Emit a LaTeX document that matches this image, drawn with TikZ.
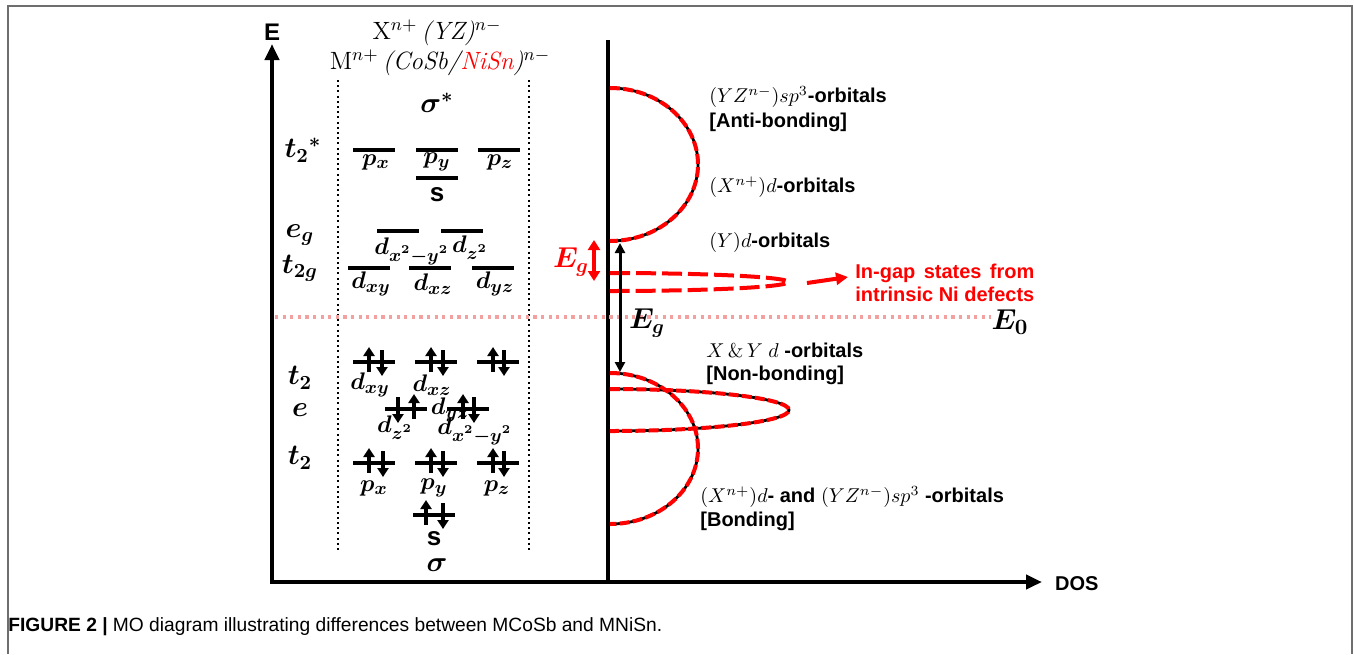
\documentclass[tikz,border=0pt]{standalone}
\usepackage{amsmath,bm,calc}
\usepackage{fontspec}
\setsansfont{Liberation Sans}
\usetikzlibrary{arrows.meta, positioning, calc}
\definecolor{gapred}{HTML}{FF0000}
\definecolor{efpink}{HTML}{F2A0A0}
\definecolor{framegray}{HTML}{6E6E6E}

\begin{document}
\begin{tikzpicture}[x=0.5pt, y=-0.5pt,
  >={Triangle[length=8pt, width=7pt]},
  axis/.style={->, line width=2pt},
  lvl/.style={line width=2pt},
  spin/.style={-{Triangle[length=4.5pt, width=5.5pt]}, line width=1.8pt},
  sym/.style={font=\fontsize{14}{16}\selectfont, inner sep=0pt},
  orb/.style={font=\fontsize{13}{15}\selectfont, inner sep=0pt},
  guide/.style={line width=1.2pt, dash pattern=on 1pt off 1.6pt},
  band/.style={line width=1.4pt},
  bandred/.style={gapred, line width=2pt, dash pattern=on 5pt off 1.6pt},
  lab/.style={anchor=west, font=\sffamily\bfseries\fontsize{10}{12}\selectfont, inner sep=0pt},
]
\useasboundingbox (0,0) rectangle (1354,654);

% Frame and caption
\draw[framegray, line width=1pt] (8,654) -- (8,6) -- (1352,6) -- (1352,654);
\node[anchor=west, font=\sffamily\fontsize{9.6}{11}\selectfont, inner sep=0pt] (cap) at (8,627)
  {\textbf{FIGURE 2 |} MO diagram illustrating differences between MCoSb and MNiSn.};

% Axes
\coordinate (origin) at (272,582);
\coordinate (etop) at (272,44);
\coordinate (dosend) at (1042,582);
\draw[axis] (272,584) -- (etop);
\draw[axis] (270,582) -- (dosend);
\node[font=\sffamily\bfseries\fontsize{12}{14}\selectfont] (elab) at (272,32) {E};
\node[font=\sffamily\bfseries\fontsize{10}{12}\selectfont, anchor=west] (doslab) at (1048,584) {DOS};
\coordinate (dostop) at (608,40);
\coordinate (dosbot) at (608,582);
\draw[line width=1.6pt] (dostop) -- (dosbot);

% Title
\node[font=\fontsize{12.5}{14}\selectfont] (title1) at (437,33) {X$^{n+}$\,\textit{(YZ)}$^{n-}$};
\node[font=\fontsize{12.5}{14}\selectfont] (title2) at (440,63)
  {M$^{n+}$\,\textit{(CoSb/\textcolor{gapred}{NiSn})}$^{n-}$};

% Dotted guides
\draw[guide] (338,80) -- (338,552);
\draw[guide] (529,80) -- (529,552);

% Fermi level
\node[font=\fontsize{15}{17}\selectfont, inner sep=0pt] (ezero) at (1010,322) {$\boldsymbol{E_0}$};
\coordinate (efl) at (275,317);
\draw[efpink, line width=1.6pt, dash pattern=on 1.6pt off 2.2pt] (efl) -- (efl -| ezero.west);

% Symmetry labels
\node[sym] (sstar) at (437,103) {$\boldsymbol{\sigma}^{\boldsymbol{*}}$};
\node[sym] (t2s) at (303,150) {${\boldsymbol{t_2}}^{\boldsymbol{*}}$};
\node[sym] (eg) at (300,235) {$\boldsymbol{e_g}$};
\node[sym] (t2g) at (300,268) {$\boldsymbol{t_{2g}}$};
\node[sym] (t2a) at (300,378) {$\boldsymbol{t_2}$};
\node[sym] (ee) at (300,410) {$\boldsymbol{e}$};
\node[sym] (t2b) at (300,458) {$\boldsymbol{t_2}$};
\node[sym] (sig) at (437,565) {$\boldsymbol{\sigma}$};

% Empty levels
\foreach \cx/\cy in {374/150, 437/150, 499/150, 437/178, 398/231, 462/231, 369/268, 430/268, 493/268}
  \draw[lvl] (\cx-21,\cy) -- (\cx+21,\cy);

% Filled levels
\foreach \cx/\cy in {374/362, 436/362, 498/362, 406/409, 468/409, 374/463, 436/463, 498/463, 434/515}
  \draw[lvl] (\cx-21,\cy) -- (\cx+21,\cy);

% Label hidden under the e levels
\node[orb] (dyz) at (450,410) {$\boldsymbol{d_{yz}}$};

% Electron pairs (up x, down x, level y)
\foreach \ux/\dx/\yy in {369/382/362, 431/443/362, 493/504/362, 414/398/409, 463/474/409,
                         369/383/463, 431/443/463, 493/504/463, 426/443/515} {
  \draw[spin] (\ux,\yy+10) -- (\ux,\yy-15);
  \draw[spin] (\dx,\yy-12) -- (\dx,\yy+14);
}

% Orbital labels
\node[orb] (px1) at (376,162) {$\boldsymbol{p_x}$};
\node[orb] (py1) at (437,162) {$\boldsymbol{p_y}$};
\node[orb] (pz1) at (500,162) {$\boldsymbol{p_z}$};
\node[font=\sffamily\bfseries\fontsize{13}{15}\selectfont, inner sep=0pt] (s1) at (437,195) {s};
\node[orb, anchor=west] (dx2a) at (374,251) {$\boldsymbol{d_{x^2-y^2}}$};
\node[orb] (dz2a) at (470,248) {$\boldsymbol{d_{z^2}}$};
\node[orb] (dxya) at (371,284) {$\boldsymbol{d_{xy}}$};
\node[orb] (dxz) at (433,284) {$\boldsymbol{d_{xz}}$};
\node[orb] (dyza) at (495,284) {$\boldsymbol{d_{yz}}$};
\node[orb] (dxyb) at (370,385) {$\boldsymbol{d_{xy}}$};
\node[orb] (dxzb) at (432,385) {$\boldsymbol{d_{xz}}$};
\node[orb] (dz2b) at (395,428) {$\boldsymbol{d_{z^2}}$};
\node[orb, anchor=west] (dx2b) at (437,431) {$\boldsymbol{d_{x^2-y^2}}$};
\node[orb] (px2) at (374,488) {$\boldsymbol{p_x}$};
\node[orb] (py2) at (434,488) {$\boldsymbol{p_y}$};
\node[orb] (pz2) at (497,488) {$\boldsymbol{p_z}$};
\node[font=\sffamily\bfseries\fontsize{13}{15}\selectfont, inner sep=0pt] (s2) at (434,539) {s};

% DOS bands
\coordinate (cbtop) at (610,88);
\coordinate (vbtop) at (610,373);
\coordinate (nbtop) at (610,389);
\coordinate (igtop) at (610,273);
\draw[band] (cbtop) arc[start angle=-90, end angle=90, x radius=88, y radius=76.5];
\draw[bandred] (cbtop) arc[start angle=-90, end angle=90, x radius=88, y radius=76.5];
\draw[band] (vbtop) arc[start angle=-90, end angle=90, x radius=88, y radius=75.5];
\draw[band] (nbtop) arc[start angle=-90, end angle=90, x radius=179, y radius=21];
\draw[bandred] (vbtop) arc[start angle=-90, end angle=90, x radius=88, y radius=75.5];
\draw[bandred] (nbtop) arc[start angle=-90, end angle=90, x radius=179, y radius=21];
\draw[gapred, line width=2pt, dash pattern=on 10pt off 3pt]
  (igtop) arc[start angle=-90, end angle=90, x radius=178, y radius=9];

% Band gaps
\coordinate (gaptop) at (620,243);
\coordinate (gapbot) at (620,372);
\draw[<->, line width=1.5pt, >={Triangle[length=5pt, width=5pt]}] (gaptop) -- (gapbot);
\node[sym] (egblk) at (647,323) {$\boldsymbol{E_g}$};
\coordinate (rgtop) at (594,240);
\coordinate (rgbot) at (594,281);
\draw[<->, gapred, line width=2pt, >={Triangle[length=5pt, width=6pt]}] (rgtop) -- (rgbot);
\node[sym, text=gapred] (egred) at (571,262) {$\boldsymbol{E_g}$};

% Band labels
\node[lab] (antib1) at (709,97) {$(YZ^{n-})sp^3$-orbitals};
\node[lab] (antib2) at (709,122) {[Anti-bonding]};
\node[lab] (xd) at (709,187) {$(X^{n+})d$-orbitals};
\node[lab] (yd) at (709,242) {$(Y)d$-orbitals};
\node[lab] (nonb1) at (706,350) {$X \,\&\, Y\ d$ -orbitals};
\node[lab] (nonb2) at (706,375) {[Non-bonding]};
\node[lab] (bond1) at (700,497) {$(X^{n+})d$- and $(YZ^{n-})sp^3$ -orbitals};
\node[lab] (bond2) at (700,521) {[Bonding]};

% In-gap states
\node[lab, text=gapred, align=left, font=\sffamily\bfseries\fontsize{10}{11.5}\selectfont] (ingap) at (855,283)
  {\makebox[\widthof{intrinsic Ni defects}][s]{In-gap states from}\\intrinsic Ni defects};
\coordinate (igtip) at (807,283);
\draw[->, gapred, line width=2pt, >={Triangle[length=6pt, width=6pt]}] (igtip) -- ($(ingap.west)+(-7,-6)$);

\end{tikzpicture}
\end{document}
